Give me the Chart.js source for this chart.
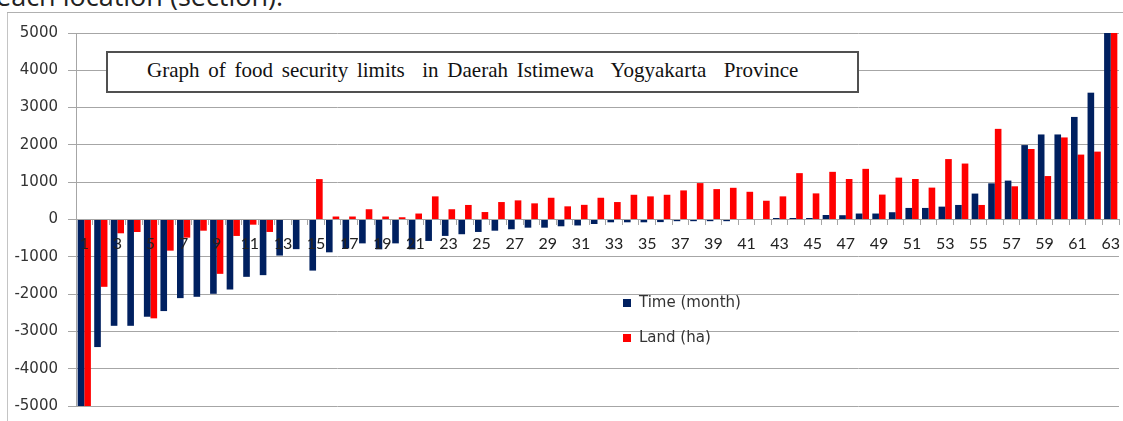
<!DOCTYPE html>
<html>
<head>
<meta charset="utf-8">
<script src="https://cdn.jsdelivr.net/npm/chart.js@4.4.1/dist/chart.umd.min.js"></script>
<style>
  html, body { margin: 0; padding: 0; background: #fff; overflow: hidden; }
  #wrap { position: relative; width: 1123px; height: 421px; overflow: hidden; background: #fff; }
  #c { position: absolute; left: 0; top: 0; }
  #topText { position: absolute; left: -4px; top: -18px; font-family: "Open Sans", sans-serif; font-size: 27px; line-height: 27px; color: #222; white-space: nowrap; }
  #frameL { position: absolute; left: 7px; top: 12px; width: 1px; height: 409px; background: #c4c4c4; }
  #frameT { position: absolute; left: 7px; top: 12px; width: 1116px; height: 1px; background: #b0b0b0; }
  #titleBox { position: absolute; left: 106px; top: 51px; width: 749px; height: 38px; border: 2px solid #505050; background: #fff; }
  #titleText { position: absolute; left: 39px; top: 7px; font-family: "Liberation Serif", "Times New Roman", serif; font-size: 21px; line-height: 20px; word-spacing: 3.5px; color: #111; white-space: pre; }
  .lg { position: absolute; font-family: "DejaVu Sans", sans-serif; font-size: 15px; line-height: 18px; color: #333; white-space: nowrap; }
  .lg span.sw { position: absolute; left: 0; top: 6px; width: 8px; height: 8px; }
  .lg span.tx { position: absolute; left: 16px; top: 0; }
</style>
</head>
<body>
<div id="wrap">
  <div id="topText">each location (section).</div>
  <canvas id="c" width="1123" height="421"></canvas>
  <div id="frameL"></div>
  <div id="frameT"></div>
  <div id="titleBox"><div id="titleText">Graph of food security limits  in Daerah Istimewa  Yogyakarta  Province</div></div>
  <div id="legend"></div>
</div>
<script>
const categories = Array.from({length: 63}, (_, i) => String(i + 1));

const timeMonth = [
  -5000, -3420, -2850, -2850, -2607, -2455, -2108, -2072, -1992, -1877,
  -1537, -1492, -967, -795, -1370, -880, -775, -640, -800, -640,
  -800, -575, -440, -395, -334, -300, -262, -219, -219, -182,
  -160, -120, -75, -75, -75, -70, -45, -45, -45, -45,
  0, 0, 40, 40, 40, 120, 115, 160, 160, 195,
  310, 310, 345, 390, 695, 970, 1043, 1995, 2280, 2280,
  2750, 3400, 5000
];

const landHa = [
  -5000, -1805, -370, -335, -2650, -835, -486, -300, -1457, -441,
  -139, -334, 0, 0, 1083, 80, 80, 275, 80, 60,
  160, 620, 275, 390, 200, 468, 513, 433, 583, 353,
  393, 583, 468, 663, 620, 663, 780, 976, 815, 850,
  743, 503, 620, 1243, 700, 1278, 1086, 1358, 668, 1123,
  1086, 855, 1620, 1500, 390, 2430, 890, 1890, 1165, 2200,
  1740, 1820, 5000
];

const yTicks = [-5000, -4000, -3000, -2000, -1000, 0, 1000, 2000, 3000, 4000, 5000];

const seriesNames = ['Time (month)', 'Land (ha)'];
const seriesColors = ['#002060', '#FF0000'];
const GRID = '#a6a6a6';

const zeroPad = s => { s.paddingLeft = 0; s.paddingRight = 0; s.paddingTop = 0; s.paddingBottom = 0; };

const chart = new Chart(document.getElementById('c'), {
  type: 'bar',
  data: {
    labels: categories,
    datasets: [
      { label: seriesNames[0], data: timeMonth, backgroundColor: seriesColors[0], borderWidth: 0, categoryPercentage: 0.8, barPercentage: 1.0 },
      { label: seriesNames[1], data: landHa, backgroundColor: seriesColors[1], borderWidth: 0, categoryPercentage: 0.8, barPercentage: 1.0 }
    ]
  },
  options: {
    responsive: false,
    animation: false,
    layout: { padding: { left: 8, right: 4, top: 33, bottom: 15 } },
    plugins: { legend: { display: false }, tooltip: { enabled: false } },
    scales: {
      x: {
        position: { y: 0 },
        afterFit: s => { zeroPad(s); s.height = 0; },
        grid: { drawOnChartArea: false, drawTicks: true, tickLength: 5, color: GRID, offset: true },
        border: { color: GRID },
        ticks: {
          z: 1,
          autoSkip: false, maxRotation: 0, minRotation: 0, padding: 10, color: '#222',
          font: { family: 'Lato', size: 16 },
          callback: (v, i) => (i % 2 === 0 ? categories[i] : '')
        }
      },
      y: {
        min: yTicks[0], max: yTicks[yTicks.length - 1],
        afterFit: s => { s.width = 68; s.paddingTop = 0; s.paddingBottom = 0; },
        afterBuildTicks: s => { s.ticks = yTicks.map(v => ({ value: v })); },
        grid: { color: GRID, tickLength: 8 },
        border: { color: GRID },
        ticks: {
          padding: 10, color: '#333',
          font: { family: 'DejaVu Sans', size: 15 },
          callback: v => String(v)
        }
      }
    }
  }
});

// HTML legend built from the chart's datasets
const legendPos = [{ left: 623, top: 293 }, { left: 623, top: 328 }];
const lg = document.getElementById('legend');
chart.data.datasets.forEach((ds, i) => {
  const d = document.createElement('div');
  d.className = 'lg';
  d.style.left = legendPos[i].left + 'px';
  d.style.top = legendPos[i].top + 'px';
  d.innerHTML = '<span class="sw" style="background:' + ds.backgroundColor + '"></span><span class="tx"></span>';
  d.querySelector('.tx').textContent = ds.label;
  lg.appendChild(d);
});
</script>
</body>
</html>
